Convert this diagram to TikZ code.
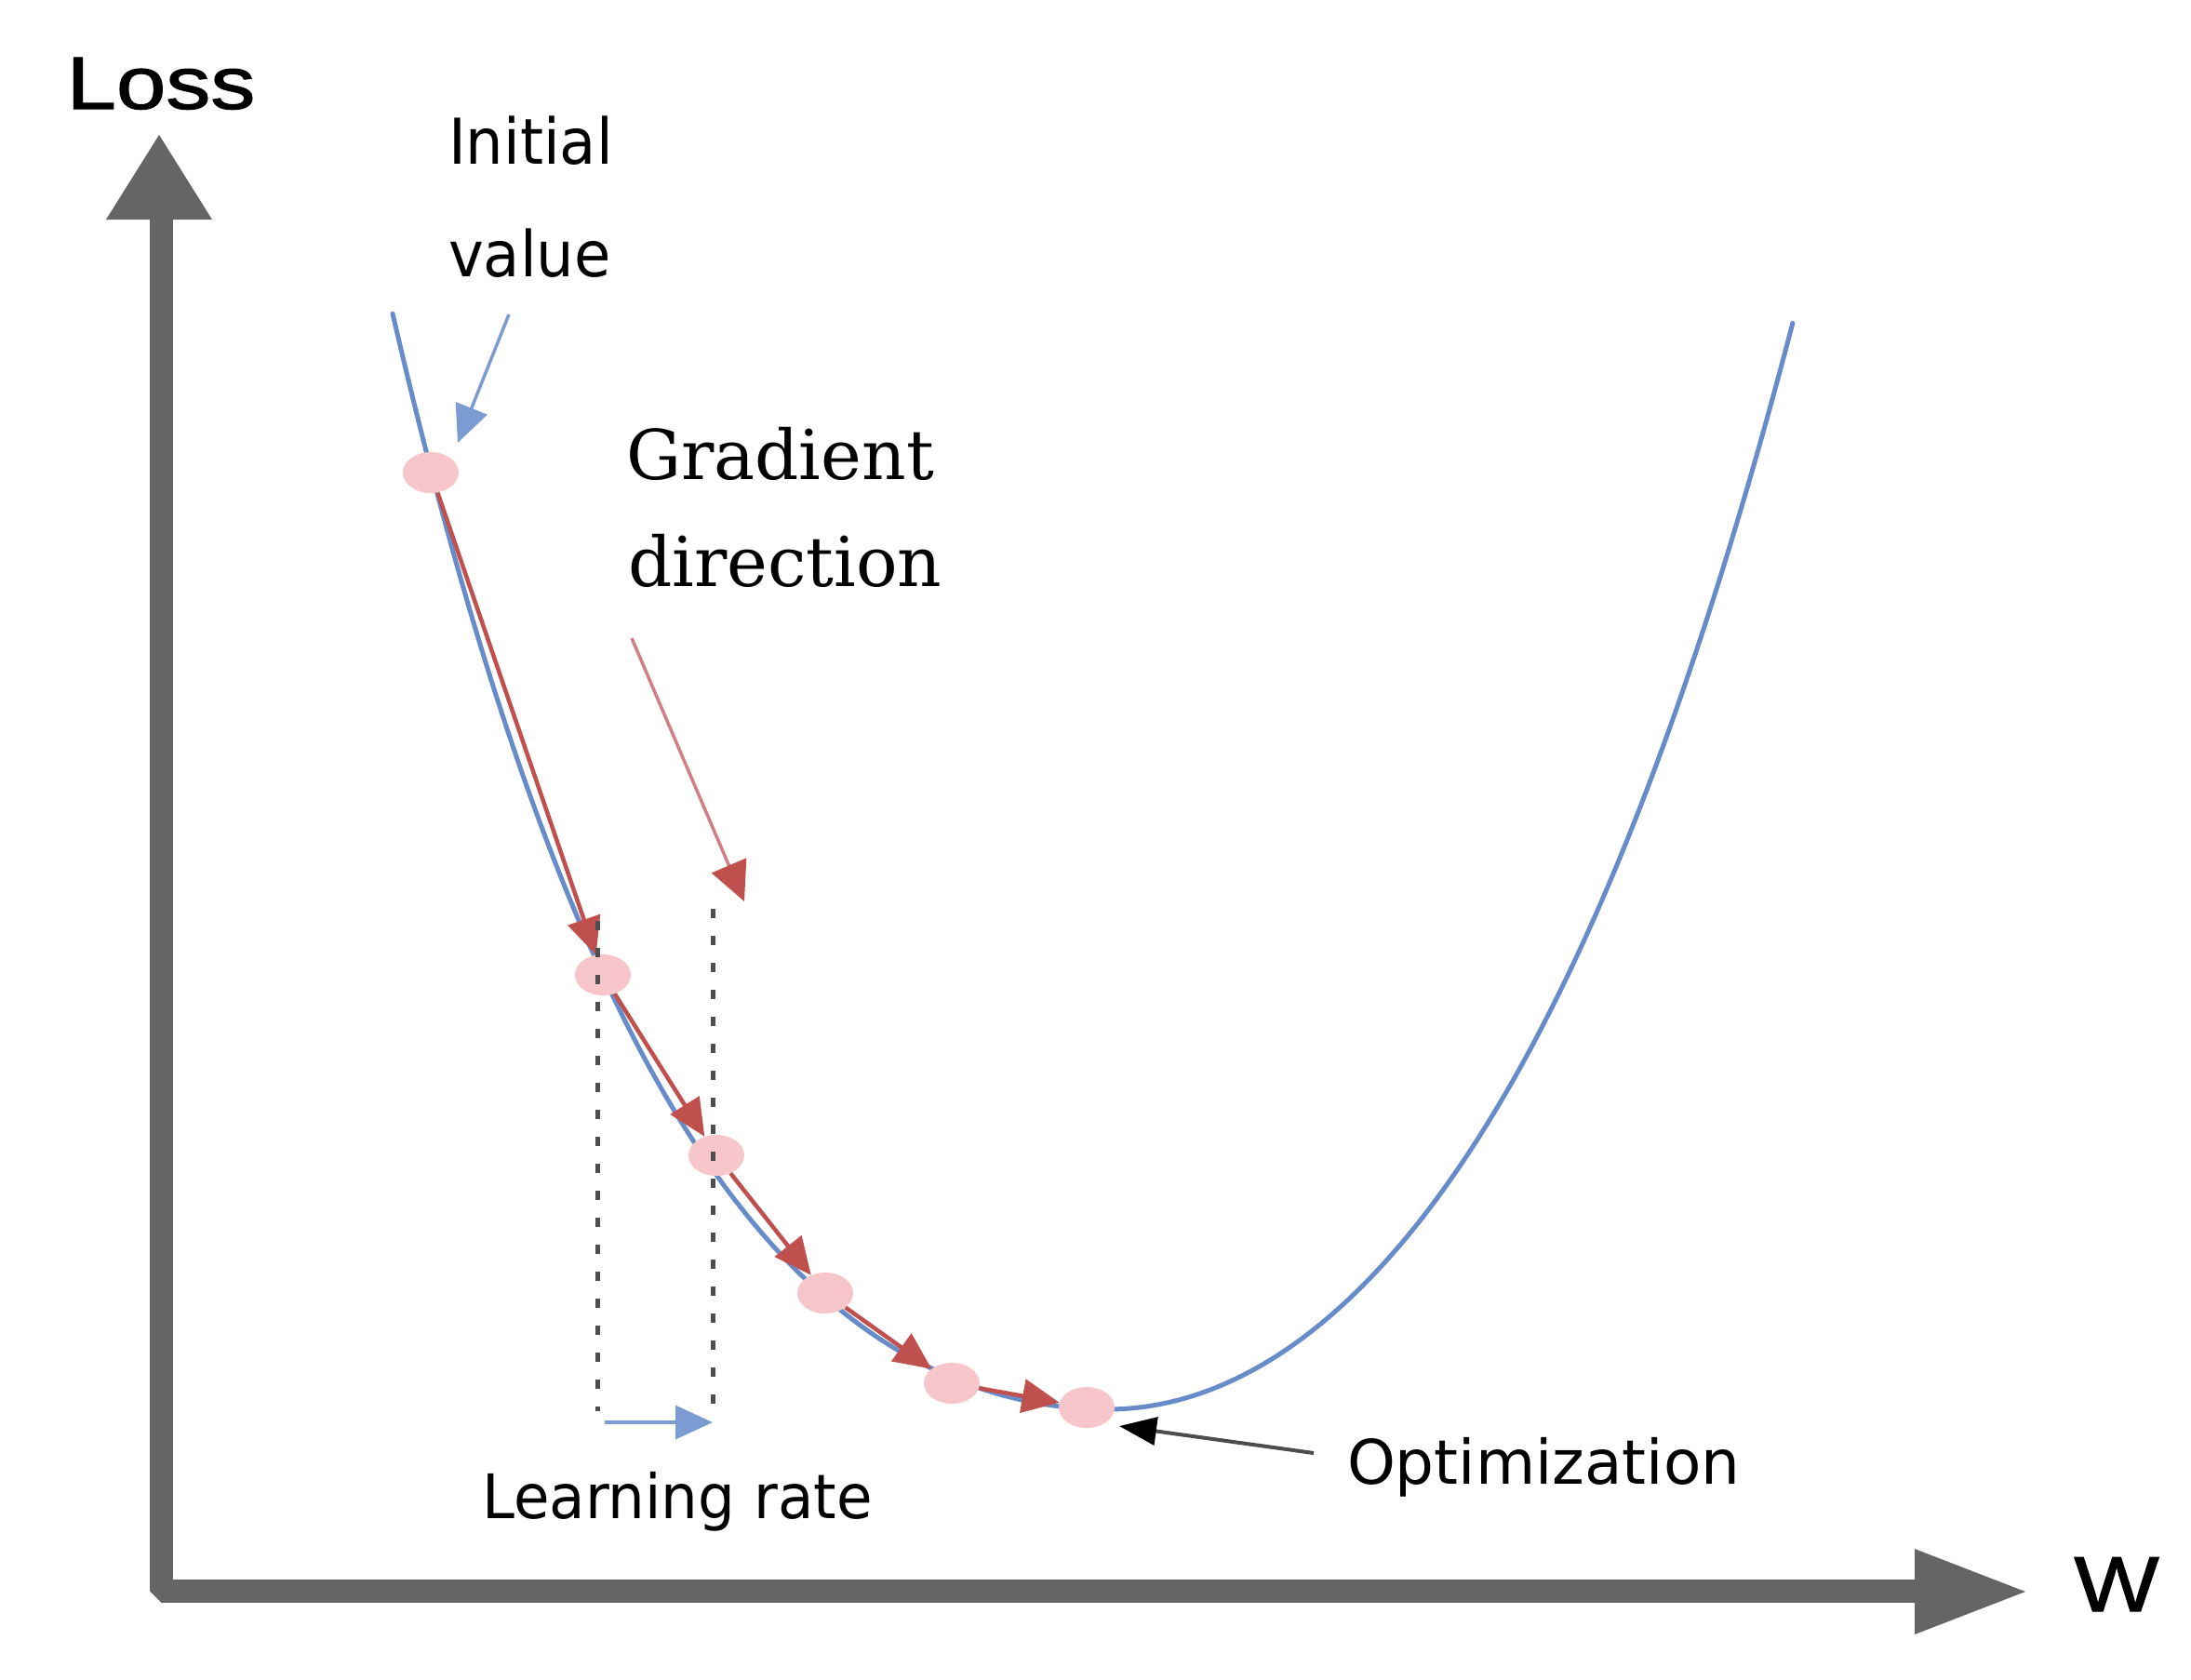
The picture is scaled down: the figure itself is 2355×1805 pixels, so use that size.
\documentclass[tikz,border=0pt]{standalone}
\usepackage{fontspec}
\usepackage{graphicx}
\usetikzlibrary{arrows.meta,shapes.geometric}
\newfontfamily\sansf{DejaVu Sans}
\newfontfamily\axisfont{Liberation Sans}[FakeBold=1.3]
\newfontfamily\seriff{DejaVu Serif}
\definecolor{axisgray}{RGB}{101,101,101}
\definecolor{curveblue}{RGB}{104,140,201}
\definecolor{lightblue}{RGB}{124,155,210}
\definecolor{stepred}{RGB}{192,80,77}
\definecolor{gradred}{RGB}{208,128,132}
\definecolor{dotpink}{RGB}{247,198,202}
\definecolor{dotgray}{RGB}{78,78,78}
\pgfdeclarelayer{bg}
\pgfdeclarelayer{fg}
\pgfsetlayers{bg,main,fg}
\begin{document}
\begin{tikzpicture}[x=1pt,y=-1pt,
  txt/.style={inner sep=0pt, outer sep=0pt, anchor=base west},
  dot/.style={ellipse, fill=dotpink, draw=none, minimum width=60pt, minimum height=44pt, inner sep=0pt},
  curve/.style={draw=curveblue, line width=5pt, line cap=round, line join=round},
  steparrow/.style={draw=stepred, line width=4.5pt, -{Triangle[length=40pt,width=36pt]}},
  gradarrow/.style={draw=gradred, line width=3.5pt, -{Triangle[length=42pt,width=40pt,color=stepred]}},
  bluearrow/.style={draw=lightblue, line width=3.5pt, -{Triangle[length=40pt,width=36pt]}},
  optarrow/.style={draw=black!70, line width=4pt, -{Triangle[length=40pt,width=30pt,color=black]}},
  dotline/.style={draw=dotgray, line width=5pt, dash pattern=on 10pt off 19pt},
  axisline/.style={draw=axisgray, line width=25pt, line join=bevel}
]
\useasboundingbox (0,0) rectangle (2355,1805);

% axes
\draw[axisline] (173,236) -- (173,1710) -- (2060,1710);
\fill[axisgray] (114,236) -- (171,145) -- (228,236) -- cycle;
\fill[axisgray] (2058,1665) -- (2177,1711) -- (2058,1757) -- cycle;

% axis labels
\node[inner sep=0pt, anchor=base] (loss) at (173,117) {\scalebox{1.2}[1]{\axisfont\fontsize{80}{96}\selectfont Loss}};
\node[inner sep=0pt, anchor=base] (wlab) at (2275,1732) {\scalebox{1.15}[1]{\axisfont\fontsize{84}{100}\selectfont W}};

% dots
\node[dot] (d1) at (463,508) {};
\node[dot] (d2) at (648,1048) {};
\node[dot] (d3) at (770,1242) {};
\node[dot] (d4) at (887,1390) {};
\node[dot] (d5) at (1023,1487) {};
\node[dot] (d6) at (1168,1513) {};

\begin{pgfonlayer}{bg}
\draw[curve] plot[domain=4.22:11.9, samples=120, smooth]
   ({100*\x},{1515-(11.86*(11.9-\x)*(11.9-\x)+0.1375*(11.9-\x)*(11.9-\x)*(11.9-\x)*(11.9-\x))})
 -- plot[domain=11.9:19.27, samples=120, smooth]
   ({100*\x},{1515-(17.0*(\x-11.9)*(\x-11.9)+0.083*(\x-11.9)*(\x-11.9)*(\x-11.9)*(\x-11.9))});
\draw[steparrow] (d1) -- (d2);
\draw[steparrow] (d2) -- (d3);
\draw[steparrow] (d3) -- (d4);
\draw[steparrow] (d4) -- (d5);
\draw[steparrow] (d5) -- (d6);
\end{pgfonlayer}

% texts
\node[txt] (init1) at (482,176) {\scalebox{0.94}[1]{\sansf\fontsize{68}{80}\selectfont Initial}};
\node[txt] (init2) at (482,297) {\scalebox{0.94}[1]{\sansf\fontsize{68}{80}\selectfont value}};
\node[txt] (grad1) at (673,515) {\seriff\fontsize{74}{88}\selectfont Gradient};
\node[txt] (grad2) at (675,630) {\seriff\fontsize{74}{88}\selectfont direction};
\node[inner sep=0pt, anchor=base] (lr) at (728,1632) {\scalebox{0.95}[1]{\sansf\fontsize{66}{80}\selectfont Learning rate}};
\node[txt] (opt) at (1448,1595) {\sansf\fontsize{66}{80}\selectfont Optimization};

% annotation arrows
\coordinate (ivstart) at (547,338);
\coordinate (ivtip) at (492,476);
\draw[bluearrow] (ivstart) -- (ivtip);

\coordinate (gdstart) at (679,686);
\coordinate (gdtip) at (800,969);
\draw[gradarrow] (gdstart) -- (gdtip);

\coordinate (optstart) at (1412,1562);
\coordinate (opttip) at (1203,1533);
\draw[optarrow] (optstart) -- (opttip);

% learning rate guides
\begin{pgfonlayer}{fg}
\coordinate (la) at (642,990);
\coordinate (lb) at (642,1517);
\coordinate (ra) at (766,977);
\coordinate (rb) at (766,1517);
\draw[dotline] (la) -- (lb);
\draw[dotline] (ra) -- (rb);
\end{pgfonlayer}
\coordinate (lrstart) at (650,1529);
\coordinate (lrtip) at (766,1529);
\draw[bluearrow] (lrstart) -- (lrtip);
\end{tikzpicture}
\end{document}
